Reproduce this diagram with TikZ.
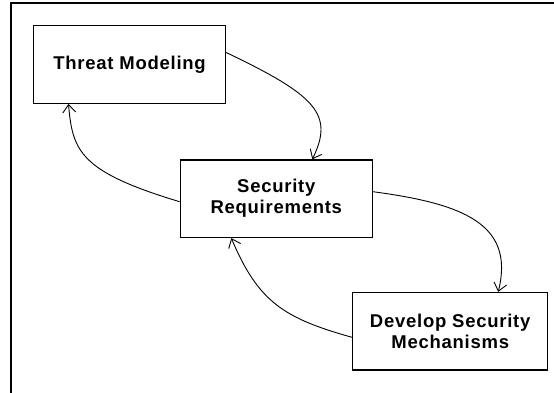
\documentclass[tikz,border=0pt]{standalone}
\usepackage{fontspec}
\newfontfamily\stagefont{Liberation Sans}[LetterSpace=4]
\usetikzlibrary{positioning, calc, arrows.meta}

\begin{document}
\begin{tikzpicture}[
          x = 1pt, y = -1pt,
          flow/.style = {draw, line width = .9pt, -{Straight Barb[length=8pt, width=13pt]}}
        ]
          \tikzstyle {stage} = [draw, shape = rectangle, line width = 1.3pt, fill = white,
            minimum width = 192pt, minimum height = 77.5pt, inner sep = 0, align = center,
            font = \stagefont\bfseries\fontsize{18.5}{21}\selectfont]
          \useasboundingbox (0,0) rectangle (554,393);
          % frame on the top and left
          \draw [line width = 2.5pt] (10.8,393) |- (554,2.8);
          % place nodes
          \path node (threat) [stage] at (129.5,64.5) {Threat Modeling};
          \path node (req) [stage] at (276.3,198.7) {Security\\Requirements};
          \path node (mech) [stage, minimum width = 195pt] at (450.2,331.3) {Develop Security\\Mechanisms};
          % place edges
          \draw [flow] ([yshift=12pt]threat.east) .. controls +(90,43) and +(22,-45) .. ([xshift=36pt]req.north);
          \draw [flow] ([yshift=7pt]req.east) .. controls +(90,12) and +(17,-68) .. ([xshift=48pt]mech.north);
          \draw [flow] ([yshift=-6pt]mech.west) .. controls +(-68,-19) and +(27,64) .. ([xshift=-45pt]req.south);
          \draw [flow] ([yshift=-3pt]req.west) .. controls +(-100,-30) and +(4,47) .. ([xshift=-61pt]threat.south);
        \end{tikzpicture}
\end{document}
